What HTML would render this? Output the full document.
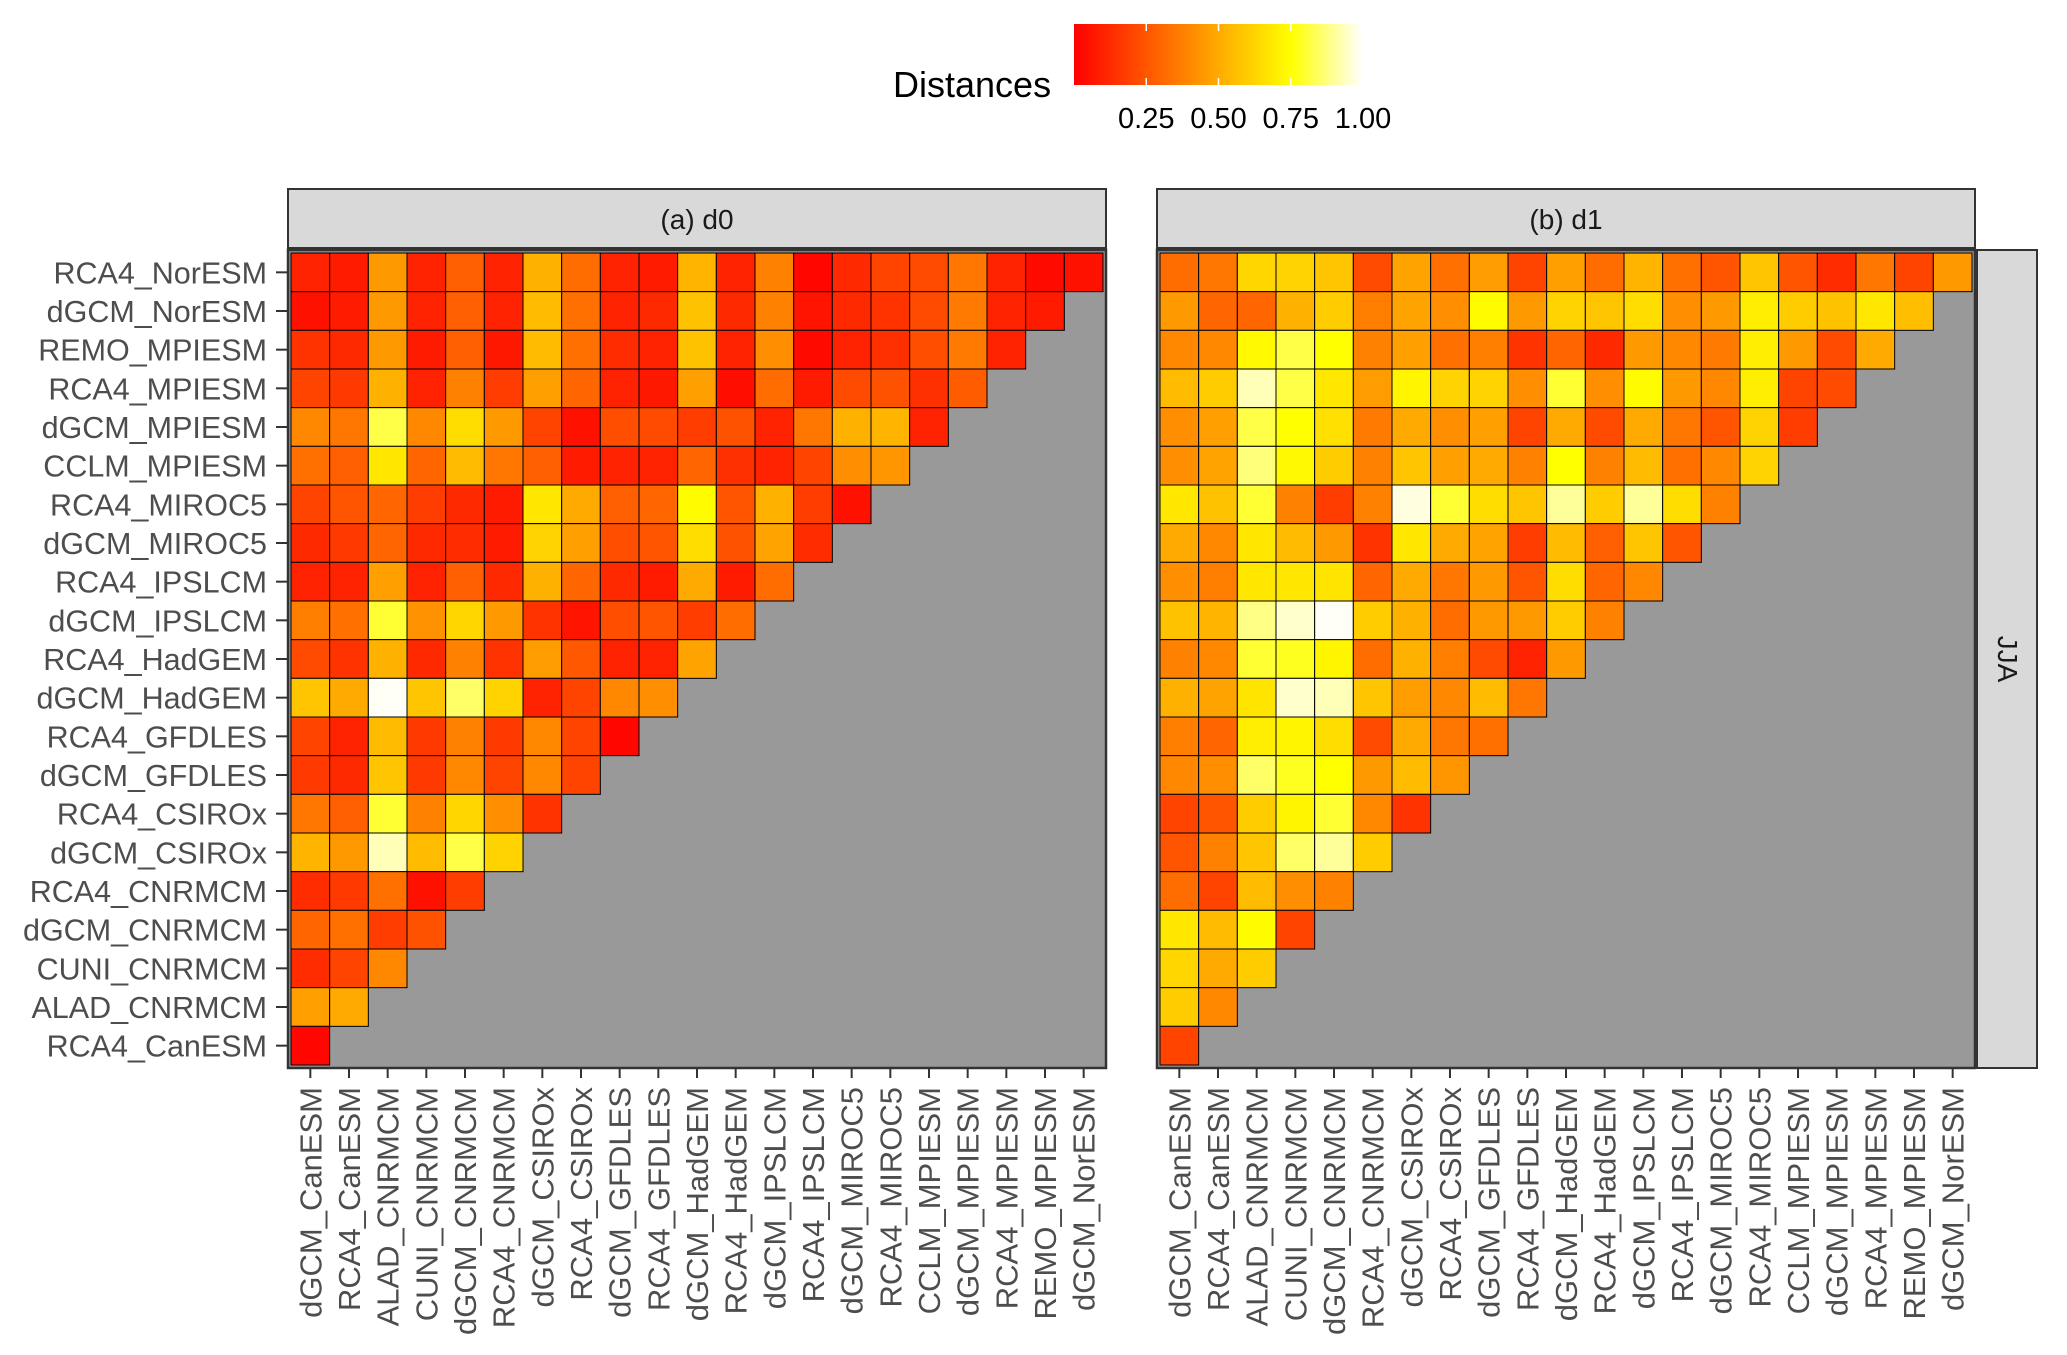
<!DOCTYPE html>
<html><head><meta charset="utf-8"><style>
html,body{margin:0;padding:0;background:#fff;}
svg text{font-family:"Liberation Sans",Arial,sans-serif;}
</style></head><body>
<svg id="chart" width="2067" height="1350" viewBox="0 0 2067 1350" xmlns="http://www.w3.org/2000/svg">
<defs><linearGradient id="heat" x1="0" x2="1" y1="0" y2="0">
<stop offset="0" stop-color="#ff0000"/><stop offset="0.375" stop-color="#ff8000"/><stop offset="0.75" stop-color="#ffff00"/><stop offset="1" stop-color="#ffffff"/>
</linearGradient></defs>
<g>
<text x="893" y="97" font-size="36" fill="#000">Distances</text>
<rect x="1074" y="24" width="289" height="61" fill="url(#heat)"/>
<g id="legendTicks"></g>
</g>
<g id="panels"></g>
</svg>
<script>
const rowCats = ["RCA4_NorESM","dGCM_NorESM","REMO_MPIESM","RCA4_MPIESM","dGCM_MPIESM","CCLM_MPIESM","RCA4_MIROC5","dGCM_MIROC5","RCA4_IPSLCM","dGCM_IPSLCM","RCA4_HadGEM","dGCM_HadGEM","RCA4_GFDLES","dGCM_GFDLES","RCA4_CSIROx","dGCM_CSIROx","RCA4_CNRMCM","dGCM_CNRMCM","CUNI_CNRMCM","ALAD_CNRMCM","RCA4_CanESM"];
const colCats = ["dGCM_CanESM","RCA4_CanESM","ALAD_CNRMCM","CUNI_CNRMCM","dGCM_CNRMCM","RCA4_CNRMCM","dGCM_CSIROx","RCA4_CSIROx","dGCM_GFDLES","RCA4_GFDLES","dGCM_HadGEM","RCA4_HadGEM","dGCM_IPSLCM","RCA4_IPSLCM","dGCM_MIROC5","RCA4_MIROC5","CCLM_MPIESM","dGCM_MPIESM","RCA4_MPIESM","REMO_MPIESM","dGCM_NorESM"];
const legendTicks = [0.25,0.5,0.75,1.0];
const legendTickLabels = ["0.25","0.50","0.75","1.00"];
const panelTitles = ["(a) d0","(b) d1"];
const valuesD0 = [
[.1,.08,.45,.1,.28,.1,.52,.32,.1,.08,.53,.1,.38,.02,.12,.2,.22,.35,.1,.03,.05],
[.05,.08,.45,.1,.28,.1,.55,.33,.1,.12,.57,.12,.38,.06,.12,.15,.22,.36,.1,.08],
[.15,.12,.45,.08,.28,.07,.55,.33,.13,.1,.57,.1,.42,.03,.1,.14,.23,.36,.1],
[.2,.17,.52,.1,.38,.18,.47,.3,.1,.07,.47,.04,.32,.08,.22,.24,.14,.27],
[.4,.35,.82,.4,.65,.45,.2,.05,.23,.22,.18,.24,.1,.35,.52,.53,.1],
[.33,.28,.68,.3,.55,.35,.28,.08,.1,.1,.3,.14,.1,.2,.42,.44],
[.2,.25,.3,.18,.12,.08,.68,.5,.28,.3,.74,.25,.52,.18,.05],
[.12,.17,.3,.12,.13,.08,.62,.47,.23,.25,.65,.24,.48,.13],
[.1,.1,.47,.1,.28,.12,.52,.3,.12,.08,.5,.08,.32],
[.37,.33,.8,.43,.63,.45,.15,.06,.23,.25,.18,.32],
[.22,.15,.52,.12,.38,.15,.46,.26,.1,.1,.48],
[.58,.5,.99,.58,.85,.62,.1,.2,.4,.42],
[.2,.1,.55,.17,.38,.17,.4,.2,.02],
[.17,.12,.58,.17,.4,.2,.4,.2],
[.35,.28,.8,.38,.63,.42,.15],
[.53,.45,.93,.55,.82,.62],
[.13,.17,.33,.05,.18],
[.3,.33,.18,.24],
[.13,.2,.4],
[.47,.5],
[.02]];
const valuesD1 = [
[.32,.35,.63,.62,.58,.22,.48,.33,.46,.2,.47,.32,.53,.33,.25,.58,.25,.13,.35,.2,.45],
[.45,.3,.3,.52,.6,.37,.48,.42,.74,.45,.62,.58,.65,.42,.45,.7,.6,.57,.68,.56],
[.4,.4,.73,.82,.75,.38,.47,.33,.37,.15,.3,.12,.45,.4,.36,.7,.45,.22,.5],
[.55,.6,.93,.82,.68,.46,.72,.62,.62,.42,.8,.42,.74,.45,.4,.7,.2,.22],
[.42,.47,.82,.75,.66,.36,.5,.42,.47,.2,.5,.22,.5,.35,.25,.62,.18],
[.42,.48,.87,.73,.6,.38,.58,.47,.5,.38,.75,.38,.55,.33,.4,.62],
[.68,.57,.8,.38,.18,.38,.97,.8,.65,.58,.9,.6,.9,.65,.38],
[.5,.4,.68,.55,.45,.15,.68,.5,.48,.18,.55,.28,.58,.25],
[.42,.37,.68,.68,.67,.3,.5,.35,.45,.25,.65,.3,.4],
[.57,.53,.88,.95,.99,.6,.52,.32,.45,.45,.6,.38],
[.38,.4,.8,.78,.72,.32,.52,.37,.22,.1,.45],
[.52,.48,.67,.95,.93,.58,.46,.4,.55,.35],
[.37,.3,.7,.72,.65,.22,.5,.35,.33],
[.4,.42,.85,.78,.75,.45,.55,.44],
[.2,.25,.6,.72,.8,.4,.15],
[.25,.38,.58,.85,.9,.6],
[.32,.2,.55,.42,.38],
[.68,.55,.74,.2],
[.63,.5,.6],
[.6,.4],
[.2]];

const NS="http://www.w3.org/2000/svg";
function mk(tag, attrs, parent){const e=document.createElementNS(NS,tag);for(const k in attrs)e.setAttribute(k,attrs[k]);parent.appendChild(e);return e;}
function heat(v){v=Math.max(0,Math.min(1,v));
  if(v<=0.75)return `rgb(255,${Math.round(255*v/0.75)},0)`;
  return `rgb(255,255,${Math.round(255*(v-0.75)/0.25)})`;}
const legX0=1074, legW=289;
function legScale(v){return legX0+v*legW;}
const lt=document.getElementById('legendTicks');
legendTicks.forEach((t,i)=>{
  const x=legScale(t);
  if(t<1){
    const a=mk('line',{x1:x,x2:x,y1:24,y2:31,stroke:'#fff','stroke-width':1.5},lt);
    
    
    const b=mk('line',{x1:x,x2:x,y1:78,y2:85,stroke:'#fff','stroke-width':1.5},lt);
    
    
  }
  const tx=mk('text',{x:x,y:128,'font-size':29,'text-anchor':'middle',fill:'#000'},lt);
  tx.textContent=legendTickLabels[i];
  
  
});

const panelsG=document.getElementById('panels');
const cellTop=253, cellBottom=1065, n=21, cs=(cellBottom-cellTop)/n;
const panelDefs=[{x0:291,data:valuesD0,name:'panel-d0'},{x0:1160,data:valuesD1,name:'panel-d1'}];
function yScale(r){return cellTop+r*cs;}
panelDefs.forEach((p,pi)=>{
  const g=mk('g',{},panelsG);
  
  
  const xScale=c=>p.x0+c*cs;
  const st=mk('rect',{x:p.x0-3,y:189,width:n*cs+6,height:59,fill:'#d9d9d9',stroke:'#333','stroke-width':2},g);
  
  
  const stt=mk('text',{x:p.x0+n*cs/2,y:229,'font-size':28,'text-anchor':'middle',fill:'#1a1a1a'},g);
  stt.textContent=panelTitles[pi];
  
  
  const bg=mk('rect',{x:p.x0-3,y:250,width:n*cs+6,height:818,fill:'#999999',stroke:'#333','stroke-width':2.5},g);
  
  
  p.data.forEach((row,r)=>{
    row.forEach((v,c)=>{
      const rc=mk('rect',{x:xScale(c),y:yScale(r),width:cs,height:cs,fill:heat(v),stroke:'#000','stroke-width':1},g);
      
      
    });
  });
  colCats.forEach((lab,c)=>{
    const cx=xScale(c)+cs/2;
    const tk=mk('line',{x1:cx,x2:cx,y1:1068,y2:1078,stroke:'#333','stroke-width':2},g);
    
    
    const t=mk('text',{x:0,y:0,'font-size':31,'text-anchor':'end',fill:'#4d4d4d',transform:`translate(${cx+11},1087) rotate(-90)`},g);
    t.textContent=lab;
    
    
  });
  if(pi===0){
    rowCats.forEach((lab,r)=>{
      const cy=yScale(r)+cs/2;
      const tk=mk('line',{x1:276,x2:287,y1:cy,y2:cy,stroke:'#333','stroke-width':2},g);
      
      
      const t=mk('text',{x:267,y:cy+11,'font-size':30.5,'text-anchor':'end',fill:'#4d4d4d'},g);
      t.textContent=lab;
      
      
    });
  }
});
const rs=mk('rect',{x:1977,y:250,width:60,height:818,fill:'#d9d9d9',stroke:'#333','stroke-width':2},panelsG);


const rst=mk('text',{x:0,y:0,'font-size':28,'text-anchor':'middle',fill:'#1a1a1a',transform:'translate(1998,659) rotate(90)'},panelsG);
rst.textContent='JJA';


</script>
</body></html>
